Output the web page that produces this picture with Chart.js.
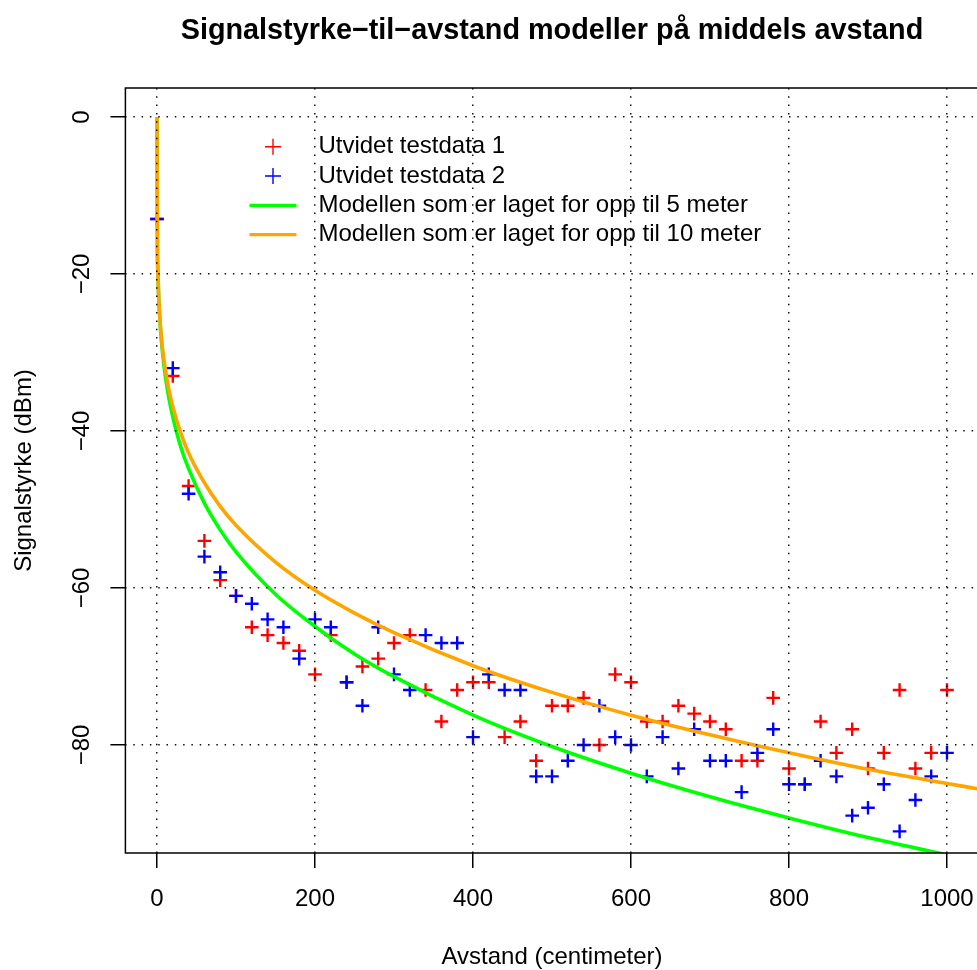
<!DOCTYPE html>
<html lang="no">
<head>
<meta charset="UTF-8">
<title>Signalstyrke-til-avstand modeller</title>
<script src="https://cdn.jsdelivr.net/npm/chart.js@4.4.0/dist/chart.umd.min.js"></script>
<style>
  html, body { margin: 0; padding: 0; background: #fff; overflow: hidden; }
  canvas { display: block; }
</style>
</head>
<body>
<canvas id="chart" width="1105" height="970"></canvas>
<script>
// målinger hver 20 cm
const distances = [0, 20, 40, 60, 80, 100, 120, 140, 160, 180, 200, 220, 240, 260, 280, 300,
  320, 340, 360, 380, 400, 420, 440, 460, 480, 500, 520, 540, 560, 580, 600, 620, 640, 660,
  680, 700, 720, 740, 760, 780, 800, 820, 840, 860, 880, 900, 920, 940, 960, 980, 1000];
const testdata1 = [-13, -33, -47, -54, -59, -61, -65, -66, -67, -68, -71, -66, -72, -70, -69, -67,
  -66, -73, -77, -73, -72, -72, -79, -77, -82, -75, -75, -74, -80, -71, -72, -77, -77, -75,
  -76, -77, -78, -82, -82, -74, -83, -85, -77, -81, -78, -83, -81, -73, -83, -81, -73];
const testdata2 = [-13, -32, -48, -56, -58, -61, -62, -64, -65, -69, -64, -65, -72, -75, -65, -71,
  -73, -66, -67, -67, -79, -71, -73, -73, -84, -84, -82, -80, -75, -79, -80, -84, -79, -83,
  -78, -82, -82, -86, -81, -78, -85, -85, -82, -84, -89, -88, -85, -91, -87, -84, -81];

// modellkurvene
const modelDistances = [0, 0.5, 1, 2, 3, 5, 7, 10, 15, 20, 30, 40, 60, 80, 100, 150, 200, 250,
  300, 400, 500, 600, 700, 800, 900, 1000, 1040];
const model5m = [0, -16.4, -19.2, -22.5, -24.7, -27.8, -30.0, -32.6, -35.8, -38.2, -42.0, -44.8,
  -49.2, -52.6, -55.4, -60.8, -64.9, -68.4, -71.3, -76.2, -80.2, -83.6, -86.6, -89.3, -91.8,
  -94.0, -94.9];
const model10m = [0, -16.8, -19.5, -22.6, -24.6, -27.5, -29.5, -31.8, -34.7, -36.9, -40.2, -42.8,
  -46.6, -49.6, -52.0, -56.7, -60.3, -63.2, -65.7, -69.9, -73.3, -76.2, -78.7, -81.0, -83.1,
  -84.9, -85.6];

const xTicks = [0, 200, 400, 600, 800, 1000];
const yTicks = [-80, -60, -40, -20, 0];
const seriesNames = ["Utvidet testdata 1", "Utvidet testdata 2",
  "Modellen som er laget for opp til 5 meter", "Modellen som er laget for opp til 10 meter"];
const mainTitle = "Signalstyrke\u2212til\u2212avstand modeller på middels avstand";

const FONT = '"Liberation Sans", Arial, Helvetica, sans-serif';
Chart.defaults.font.family = FONT;
Chart.defaults.color = "#000";

const toXY = (xs, ys) => xs.map((x, i) => ({ x: x, y: ys[i] }));

// legende uten ramme, tegnet inne i plottet
const legendItems = [
  { label: seriesNames[0], color: "#ff0000", kind: "point" },
  { label: seriesNames[1], color: "#0000ff", kind: "point" },
  { label: seriesNames[2], color: "#00ff00", kind: "line" },
  { label: seriesNames[3], color: "#ffa500", kind: "line" }
];

const rBox = {
  id: "rBox",
  afterDraw(chart) {
    const { ctx, chartArea: a } = chart;
    ctx.save();
    ctx.strokeStyle = "#000";
    ctx.lineWidth = 1.5;
    ctx.strokeRect(a.left, a.top, a.right - a.left, a.bottom - a.top);

    // tittel sentrert over plottet
    ctx.fillStyle = "#000";
    ctx.textAlign = "center";
    ctx.textBaseline = "middle";
    ctx.font = "bold 28.8px " + FONT;
    ctx.fillText(mainTitle, (a.left + a.right) / 2, 31);

    ctx.font = "24px " + FONT;
    ctx.textAlign = "left";
    legendItems.forEach((item, i) => {
      const y = a.top + 58.7 + i * 29.3;
      const cx = a.left + 147.6;
      ctx.strokeStyle = item.color;
      ctx.beginPath();
      if (item.kind === "point") {
        ctx.lineWidth = 1.4;
        ctx.moveTo(cx - 8, y); ctx.lineTo(cx + 8, y);
        ctx.moveTo(cx, y - 8); ctx.lineTo(cx, y + 8);
      } else {
        ctx.lineWidth = 3.3;
        ctx.moveTo(cx - 23.5, y); ctx.lineTo(cx + 23.5, y);
      }
      ctx.stroke();
      ctx.fillText(item.label, a.left + 193, y);
    });
    ctx.restore();
  }
};

const minus = v => (v < 0 ? "\u2212" + Math.abs(v) : String(v));

new Chart(document.getElementById("chart"), {
  type: "scatter",
  data: {
    datasets: [
      {
        label: seriesNames[3], type: "line", data: toXY(modelDistances, model10m),
        borderColor: "#ffa500", borderWidth: 3.6, pointRadius: 0,
        cubicInterpolationMode: "monotone", order: 0
      },
      {
        label: seriesNames[2], type: "line", data: toXY(modelDistances, model5m),
        borderColor: "#00ff00", borderWidth: 3.6, pointRadius: 0,
        cubicInterpolationMode: "monotone", order: 1
      },
      {
        label: seriesNames[1], data: toXY(distances, testdata2),
        pointStyle: "cross", pointRadius: 6.8, borderColor: "#0000ff", borderWidth: 2.4,
        backgroundColor: "#0000ff", order: 2
      },
      {
        label: seriesNames[0], data: toXY(distances, testdata1),
        pointStyle: "cross", pointRadius: 6.8, borderColor: "#ff0000", borderWidth: 2.4,
        backgroundColor: "#ff0000", order: 3
      }
    ]
  },
  options: {
    responsive: false,
    animation: false,
    devicePixelRatio: 1,
    layout: { padding: { top: 88, left: 0, right: 126.4, bottom: 0 } },
    plugins: {
      legend: { display: false },
      tooltip: { enabled: false },
      title: { display: false }
    },
    scales: {
      x: {
        type: "linear", min: -40, max: 1040,
        afterBuildTicks: s => { s.ticks = xTicks.map(v => ({ value: v })); },
        afterFit: s => { s.height = 117; },
        grid: {
          color: "#111", lineWidth: 1.5, z: 1,
          tickColor: "#000", tickWidth: 1.5, tickLength: 15
        },
        border: { display: false, dash: [1.5, 6.8] },
        ticks: { font: { size: 24 }, color: "#000", padding: 17, maxRotation: 0, callback: minus },
        title: { display: true, text: "Avstand (centimeter)", font: { size: 24 }, color: "#000",
          padding: { top: 0, bottom: -2 } }
      },
      y: {
        type: "linear", min: -93.76, max: 3.69,
        afterBuildTicks: s => { s.ticks = yTicks.map(v => ({ value: v })); },
        afterFit: s => { s.width = 125.4; },
        grid: {
          color: "#111", lineWidth: 1.5, z: 1,
          tickColor: "#000", tickWidth: 1.5, tickLength: 15
        },
        border: { display: false, dash: [1.5, 6.8] },
        ticks: { font: { size: 24 }, color: "#000", padding: 8, minRotation: 90, maxRotation: 90,
          crossAlign: "center", callback: minus },
        title: { display: true, text: "Signalstyrke (dBm)", font: { size: 24 }, color: "#000",
          padding: { top: 9.6, bottom: 0 } }
      }
    }
  },
  plugins: [rBox]
});
</script>
</body>
</html>
